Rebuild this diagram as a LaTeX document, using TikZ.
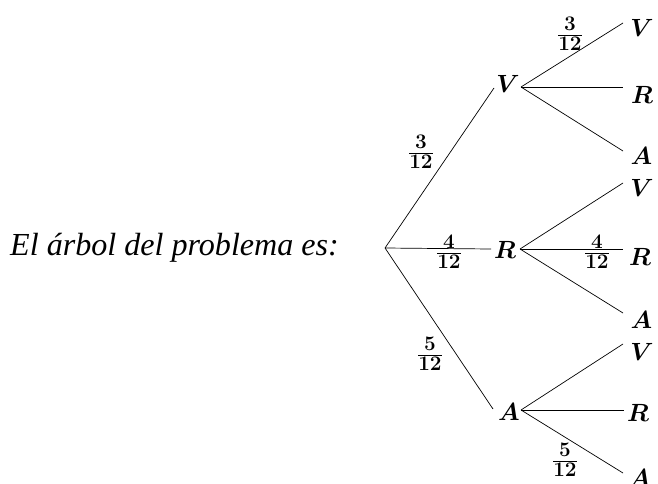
\documentclass[tikz,border=0pt]{standalone}
\usepackage[no-math]{fontspec}
\newfontfamily\timesfont{Liberation Serif}
\begin{document}
\begin{tikzpicture}[x=1pt,y=-1pt,
  lbl/.style={inner sep=0pt,font=\fontsize{24.88}{30}\selectfont\boldmath},
  frac/.style={inner sep=0pt,font=\fontsize{24.88}{30}\selectfont\boldmath},
  br/.style={line width=0.7pt}]
\useasboundingbox (0,0) rectangle (658,484);
\node[font=\fontsize{32.1}{38}\selectfont\timesfont\itshape,anchor=base west,inner sep=0pt] (title) at (10,255) {El árbol del problema es:};
\coordinate (root) at (385,248);
% middle nodes and their branch points
\node[lbl] (mV) at (508,84) {$V$};
\node[lbl] (mR) at (505,249.5) {$R$};
\node[lbl] (mA) at (509,412) {$A$};
\coordinate (mVin) at (494,88);   \coordinate (mVout) at (521,87);
\coordinate (mRin) at (491,249);  \coordinate (mRout) at (520,249);
\coordinate (mAin) at (493,409);  \coordinate (mAout) at (521,410);
% leaf line ends
\coordinate (e1) at (623,23);
\coordinate (e2) at (623,87);
\coordinate (e3) at (623,151);
\coordinate (e4) at (623,183);
\coordinate (e5) at (623,249);
\coordinate (e6) at (623,313);
\coordinate (e7) at (623,344);
\coordinate (e8) at (624,410);
\coordinate (e9) at (623,473);
% leaf labels
\node[lbl] (l1) at (642,28) {$V$};
\node[lbl] (l2) at (642,94.5) {$R$};
\node[lbl] (l3) at (641.5,156) {$A$};
\node[lbl] (l4) at (642,188) {$V$};
\node[lbl] (l5) at (640,257) {$R$};
\node[lbl] (l6) at (641.5,320) {$A$};
\node[lbl] (l7) at (642,352) {$V$};
\node[lbl] (l8) at (638,413) {$R$};
\node[lbl] (l9) at (640,478) {$A$};
% branches
\draw[br] (root) -- (mVin);
\draw[br] (root) -- (mRin);
\draw[br] (root) -- (mAin);
\draw[br] (mVout) -- (e1);
\draw[br] (mVout) -- (e2);
\draw[br] (mVout) -- (e3);
\draw[br] (mRout) -- (e4);
\draw[br] (mRout) -- (e5);
\draw[br] (mRout) -- (e6);
\draw[br] (mAout) -- (e7);
\draw[br] (mAout) -- (e8);
\draw[br] (mAout) -- (e9);
% probabilities
\node[frac] (f1) at (421,152) {$\frac{3}{12}$};
\node[frac] (f2) at (449,252) {$\frac{4}{12}$};
\node[frac] (f3) at (430,354) {$\frac{5}{12}$};
\node[frac] (f4) at (570,34) {$\frac{3}{12}$};
\node[frac] (f5) at (597,252) {$\frac{4}{12}$};
\node[frac] (f6) at (565,460) {$\frac{5}{12}$};
\end{tikzpicture}
\end{document}
